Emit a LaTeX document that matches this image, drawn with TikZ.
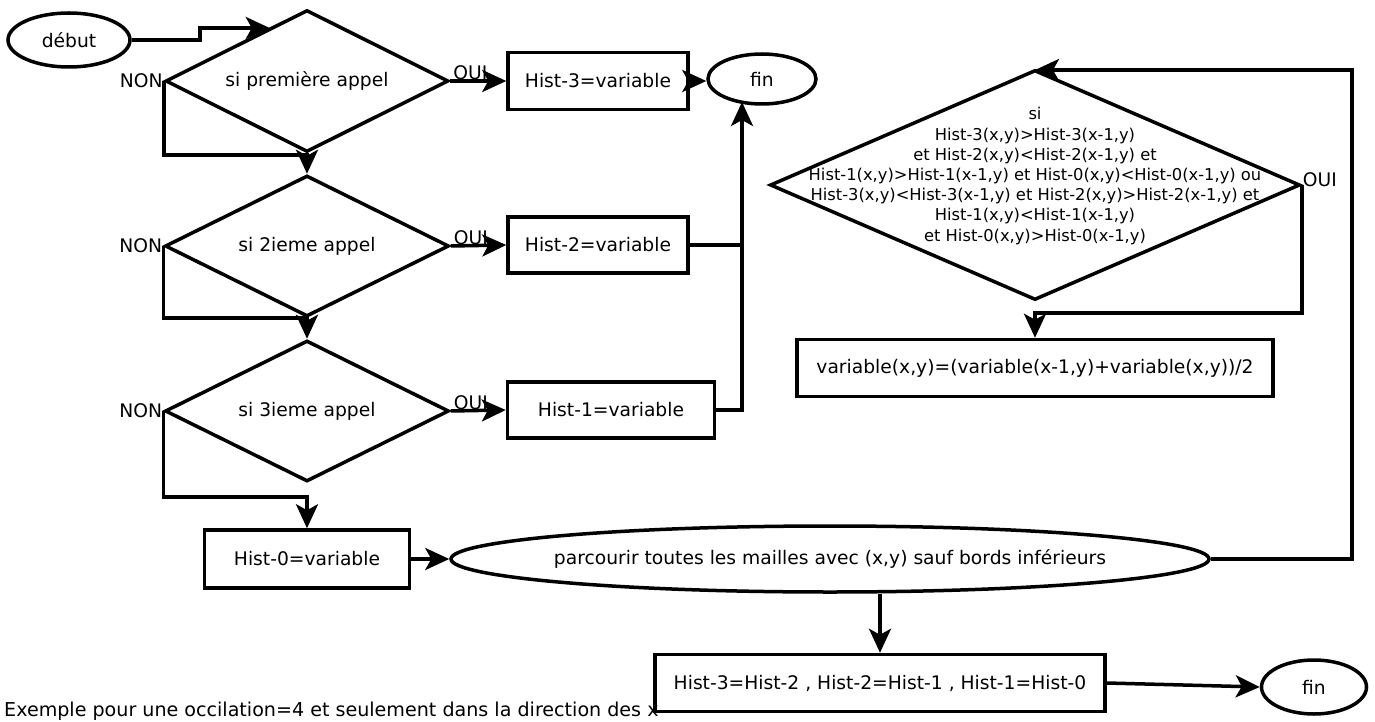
\documentclass[tikz,border=0pt]{standalone}
\usepackage{fontspec}
\setmainfont{DejaVu Sans}
\usetikzlibrary{shapes.geometric,arrows.meta,calc}
\begin{document}
\begin{tikzpicture}[x=1pt,y=-1pt,
  every node/.style={font=\fontsize{18.7}{22}\selectfont},
  line/.style={line width=3.5pt, line join=miter},
  arr/.style={line, -{Stealth[length=24pt,width=22pt,inset=6pt]}},
  box/.style={draw, line width=3.5pt, rectangle, inner sep=0pt},
  dia/.style={draw, line width=3.5pt, diamond, shape aspect=2, inner sep=0pt},
  term/.style={draw, line width=3.5pt, ellipse, inner sep=0pt},
  lbl/.style={inner sep=1pt}]
\useasboundingbox (0,0) rectangle (1375,722);

% terminals
\node[term, minimum width=122, minimum height=54] (debut) at (69,40) {début};
\node[term, minimum width=108, minimum height=50] (fin1) at (762,79) {fin};
\node[term, minimum width=105, minimum height=54] (fin2) at (1314,687) {fin};

% decisions
\node[dia, minimum width=283, minimum height=142] (d1) at (307,81) {si première appel};
\node[dia, minimum width=284, minimum height=141] (d2) at (307,246) {si 2ieme appel};
\node[dia, minimum width=284, minimum height=141] (d3) at (307,411) {si 3ieme appel};
\node[dia, minimum width=530, minimum height=230] (d4) at (1035,185) {};
\node[align=center, inner sep=0pt, font=\fontsize{16.3}{20.2}\selectfont] (d4t) at (1035,176)
  {si\\Hist-3(x,y)>Hist-3(x-1,y)\\et Hist-2(x,y)<Hist-2(x-1,y) et\\Hist-1(x,y)>Hist-1(x-1,y) et Hist-0(x,y)<Hist-0(x-1,y) ou\\Hist-3(x,y)<Hist-3(x-1,y) et Hist-2(x,y)>Hist-2(x-1,y) et\\Hist-1(x,y)<Hist-1(x-1,y)\\et Hist-0(x,y)>Hist-0(x-1,y)};

% boxes
\node[box, minimum width=180, minimum height=57] (h3) at (598,81) {Hist-3=variable};
\node[box, minimum width=180, minimum height=56] (h2) at (598,245) {Hist-2=variable};
\node[box, minimum width=207, minimum height=56] (h1) at (611,410) {Hist-1=variable};
\node[box, minimum width=205, minimum height=58] (h0) at (307,559) {Hist-0=variable};
\node[term, inner xsep=-40pt, minimum width=758, minimum height=66] (parc) at (830,559) {parcourir toutes les mailles avec (x,y) sauf bords inférieurs};
\node[box, minimum width=476, minimum height=57] (var) at (1035,368) {variable(x,y)=(variable(x-1,y)+variable(x,y))/2};
\node[box, minimum width=450, minimum height=57] (hb) at (880,683) {Hist-3=Hist-2 , Hist-2=Hist-1 , Hist-1=Hist-0};

% labels
\node[lbl, anchor=east] (non1) at (d1.west) {NON};
\node[lbl, anchor=east] (non2) at (d2.west) {NON};
\node[lbl, anchor=east] (non3) at (d3.west) {NON};
\node[lbl, anchor=south west] (oui1) at ([xshift=2]d1.east) {OUI};
\node[lbl, anchor=south west] (oui2) at ([xshift=2]d2.east) {OUI};
\node[lbl, anchor=south west] (oui3) at ([xshift=2]d3.east) {OUI};
\node[lbl, anchor=west] (oui4) at ([yshift=5]d4.east) {OUI};
\node[anchor=base west, inner sep=0pt, font=\fontsize{19.1}{22}\selectfont] (note) at (4,716) {Exemple pour une occilation=4 et seulement dans la direction des x};

% coordinates
\coordinate (e1) at ($(d1.north)!0.26!(d1.west)$);
\coordinate (b1) at (200,28);
\coordinate (c1) at (307,155);
\coordinate (c2) at (307,318);
\coordinate (c3) at (307,497);
\coordinate (fin1in) at ($(fin1.center)+(-20,23)$);
\coordinate (rc) at (1352,70);
\coordinate (c4) at (1035,313);

% connectors
\draw[arr] (debut.east) -| (b1) -- (b1 -| e1);
\draw[arr] (d1.west) |- (c1) -- (d2.north);
\draw[arr] (d2.west) |- (c2) -- (d3.north);
\draw[arr] (d3.west) |- (c3) -- (h0.north);
\draw[arr] (d1.east) -- (h3.west);
\draw[arr] (d2.east) -- (h2.west);
\draw[arr] (d3.east) -- (h1.west);
\draw[arr] (h3.east) -- (h3.east -| fin1.west);
\draw[line] (h2.east) -- (h2.east -| fin1in);
\draw[arr] (h1.east) -| (fin1in);
\draw[arr] (h0.east) -- (parc.west);
\draw[arr] (parc.east) -| (rc) -- (rc -| d4.north);
\draw[arr] (d4.east) |- (c4) -- (var.north);
\draw[arr] (hb.north |- parc.south) -- (hb.north);
\draw[arr] (hb.east) -- (fin2.west);
\end{tikzpicture}
\end{document}
